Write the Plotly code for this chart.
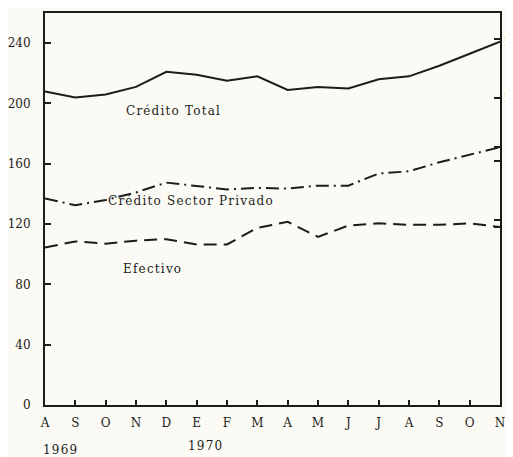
import plotly.graph_objects as go

# months Aug 1969 .. Nov 1970
meses = ["A", "S", "O", "N", "D", "E", "F", "M", "A", "M", "J", "J", "A", "S", "O", "N"]
credito_total = [208, 204, 206, 211, 221, 219, 215, 218, 209, 211, 210, 216, 218, 225, 233, 241]
credito_privado = [137, 132.5, 136, 141, 147.5, 145, 143, 144, 143.5, 145.5, 145.5, 153.5, 155, 161, 166, 171]
efectivo = [104.5, 108.5, 107, 109, 110, 106.5, 106.5, 117.5, 121.5, 111.5, 119, 120.5, 119.5, 119.5, 120.5, 118]

y_ticks = [0, 40, 80, 120, 160, 200, 240]
# right-hand scale, its labels are cut off by the page edge
y2_ticks = [242.5, 203.5, 171, 162, 122.5, 118]
y2_label_pos = [241, 203.5, 163, 122.5]
y2_label_text = ["2", "2", "1", "1"]

INK = "#1c1c1c"
PAPER = "#fbfaf4"
FONT = "DejaVu Serif"

x = list(range(len(meses)))

fig = go.Figure()
fig.add_trace(go.Scatter(x=x, y=credito_total, mode="lines", name="Crédito Total",
                         line={"color": INK, "width": 2}))
fig.add_trace(go.Scatter(x=x, y=credito_privado, mode="lines", name="Crédito Sector Privado",
                         line={"color": INK, "width": 2, "dash": "13px,5px,2px,5px"}))
fig.add_trace(go.Scatter(x=x, y=efectivo, mode="lines", name="Efectivo",
                         line={"color": INK, "width": 2, "dash": "13px,7px"}))
# invisible trace to hold the right axis
fig.add_trace(go.Scatter(x=[x[0]], y=[y_ticks[0]], yaxis="y2", mode="markers",
                         marker={"opacity": 0}, hoverinfo="skip", showlegend=False))

spaced = '<span style="letter-spacing:1.2px">%s</span>'
labels = [("Crédito Total", 4.25, 195), ("Crédito Sector Privado", 4.8, 135), ("Efectivo", 3.55, 90)]
for txt, ax, ay in labels:
    fig.add_annotation(x=ax, y=ay, text=spaced % txt, showarrow=False,
                       font={"family": FONT, "size": 12, "color": INK})

for yr, ax, ay in [("1969", 0.5, -0.115), ("1970", 5.3, -0.105)]:
    fig.add_annotation(x=ax, y=ay, xref="x", yref="paper", yanchor="middle",
                       text=spaced % yr, showarrow=False,
                       font={"family": FONT, "size": 12, "color": INK})

for txt, ay in zip(y2_label_text, y2_label_pos):
    fig.add_annotation(x=1, y=ay, xref="paper", yref="y", xanchor="left", xshift=2,
                       text=txt, showarrow=False,
                       font={"family": FONT, "size": 12, "color": INK})

# page body adds an 8px offset, so the figure is 8px smaller than the window
fig.update_layout(
    width=505, height=449,
    margin={"l": 37, "r": 13, "t": 5, "b": 52, "autoexpand": False},
    paper_bgcolor=PAPER, plot_bgcolor=PAPER,
    showlegend=False,
    font={"family": FONT, "size": 12, "color": INK},
    xaxis={"range": [0, 15], "tickvals": x, "ticktext": meses, "automargin": False,
           "ticks": "inside", "ticklen": 5, "tickwidth": 2, "tickcolor": INK,
           "showline": True, "linewidth": 2, "linecolor": INK, "mirror": True,
           "showgrid": False, "zeroline": False, "ticklabelstandoff": 6},
    yaxis={"range": [0, 260], "tickvals": y_ticks, "automargin": False,
           "ticks": "inside", "ticklen": 6, "tickwidth": 2, "tickcolor": INK,
           "showline": True, "linewidth": 2, "linecolor": INK,
           "showgrid": False, "zeroline": False, "ticklabelstandoff": 10},
    yaxis2={"range": [0, 260], "overlaying": "y", "side": "right",
            "tickvals": y2_ticks, "showticklabels": False, "automargin": False,
            "ticks": "inside", "ticklen": 6, "tickwidth": 2, "tickcolor": INK,
            "showline": True, "linewidth": 2, "linecolor": INK,
            "showgrid": False, "zeroline": False},
)

fig.write_html("out.html")
